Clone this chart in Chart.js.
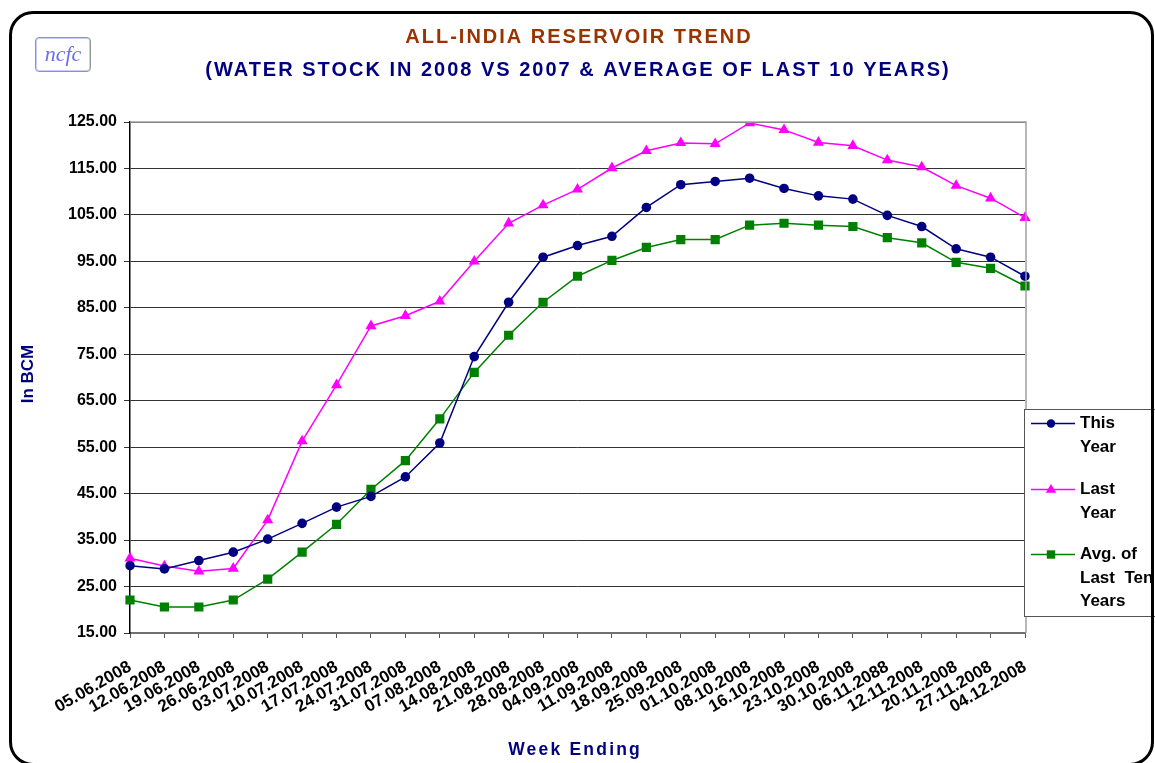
<!DOCTYPE html>
<html>
<head>
<meta charset="utf-8">
<title>All-India Reservoir Trend</title>
<script src="https://cdn.jsdelivr.net/npm/chart.js@4.4.1/dist/chart.umd.min.js"></script>
<style>
  html, body { margin: 0; padding: 0; background: #fff; overflow: hidden; }
  #wrap { position: relative; width: 1155px; height: 763px; overflow: hidden; }
  #frame {
    position: absolute; left: 9px; top: 11px; width: 1139px; height: 749px;
    border: 3px solid #000; border-radius: 24px; pointer-events: none;
  }
  #logo {
    position: absolute; left: 35px; top: 37px; width: 54px; height: 33px;
    border: 1px solid #8a9a9a; border-radius: 4px; box-shadow: inset 0 0 0 1px #c8ccff;
    font: italic 22px "Liberation Serif", "DejaVu Serif", serif; color: #6e6ef0;
    text-align: center; line-height: 31px;
  }
  #chart { position: absolute; left: 0; top: 0; }
</style>
</head>
<body>
<div id="wrap">
  <canvas id="chart" width="1155" height="763"></canvas>
  <div id="frame"></div>
  <div id="logo">ncfc</div>
</div>
<script>
// ── data (BCM, week ending) ──
const weeks = ['05.06.2008', '12.06.2008', '19.06.2008', '26.06.2008', '03.07.2008', '10.07.2008',
  '17.07.2008', '24.07.2008', '31.07.2008', '07.08.2008', '14.08.2008', '21.08.2008', '28.08.2008',
  '04.09.2008', '11.09.2008', '18.09.2008', '25.09.2008', '01.10.2008', '08.10.2008', '16.10.2008',
  '23.10.2008', '30.10.2008', '06.11.2088', '12.11.2008', '20.11.2008', '27.11.2008', '04.12.2008'];

const thisYear = [29.5, 28.8, 30.6, 32.4, 35.2, 38.6, 42.1, 44.4, 48.6, 55.9, 74.5, 86.2, 95.9, 98.4,
  100.4, 106.6, 111.5, 112.2, 112.9, 110.7, 109.1, 108.4, 104.9, 102.5, 97.7, 95.9, 91.8];

const lastYear = [31.1, 29.4, 28.3, 28.9, 39.3, 56.3, 68.4, 81.1, 83.3, 86.4, 95.0, 103.2, 107.1, 110.5,
  115.1, 118.8, 120.5, 120.3, 124.8, 123.3, 120.6, 119.9, 116.8, 115.3, 111.3, 108.6, 104.4];

const avgTenYears = [22.1, 20.6, 20.6, 22.1, 26.6, 32.4, 38.4, 45.9, 52.1, 61.1, 71.1, 79.1, 86.2, 91.8,
  95.2, 98.0, 99.7, 99.7, 102.8, 103.2, 102.8, 102.5, 100.1, 99.0, 94.8, 93.5, 89.7];

const yMin = 15, yMax = 125, yStep = 10;

const titleText = 'ALL-INDIA RESERVOIR TREND';
const subtitleText = '(WATER STOCK IN 2008 VS 2007 & AVERAGE OF LAST 10 YEARS)';
const xTitle = 'Week Ending';
const yTitle = 'In BCM';
// legend entries wrap like the original
const legendLines = [['This', 'Year'], ['Last', 'Year'], ['Avg. of', 'Last  Ten', 'Years']];

const FONT = '"Liberation Sans", Arial, Helvetica, sans-serif';

// titles are spaced out a little, canvas letterSpacing does that
function spacedText(ctx, text, x, y, font, color, spacing, rotate) {
    ctx.save();
    ctx.font = font;
    ctx.fillStyle = color;
    ctx.letterSpacing = spacing + 'px';
    ctx.textAlign = 'center';
    ctx.textBaseline = 'middle';
    ctx.translate(x, y);
    if (rotate) ctx.rotate(rotate);
    ctx.fillText(text, spacing / 2, 0);
    ctx.restore();
}

function marker(ctx, ds, x, y, r) {
    ctx.fillStyle = ds.pointBackgroundColor;
    ctx.beginPath();
    if (ds.pointStyle === 'circle') {
        ctx.arc(x, y, r, 0, Math.PI * 2);
    } else if (ds.pointStyle === 'triangle') {
        ctx.moveTo(x, y - r);
        ctx.lineTo(x + r * 0.95, y + r * 0.6);
        ctx.lineTo(x - r * 0.95, y + r * 0.6);
        ctx.closePath();
    } else {
        ctx.rect(x - r, y - r, r * 2, r * 2);
    }
    ctx.fill();
}

const decorations = {
    id: 'decorations',
    afterDatasetsDraw(chart) {
        const { ctx, chartArea: a } = chart;
        // top & right edges of the plot area
        ctx.save();
        ctx.strokeStyle = '#a0a0a0';
        ctx.lineWidth = 1.5;
        ctx.beginPath();
        ctx.moveTo(a.left, a.top);
        ctx.lineTo(a.right + 1, a.top);
        ctx.lineTo(a.right + 1, a.bottom);
        ctx.stroke();
        ctx.restore();
    },
    afterDraw(chart) {
        const { ctx } = chart;

        spacedText(ctx, titleText, 578, 37, `bold 20px ${FONT}`, '#993300', 2);
        spacedText(ctx, subtitleText, 577, 70, `bold 20px ${FONT}`, '#000080', 2);
        spacedText(ctx, xTitle, 574, 750, `bold 17.5px ${FONT}`, '#000080', 2.2);
        spacedText(ctx, yTitle, 28, 374, `bold 17px ${FONT}`, '#000080', 0, -Math.PI / 2);

        // legend box hanging over the right edge
        const bx = 1024, by = 409.5, bh = 207;
        ctx.save();
        ctx.fillStyle = '#fff';
        ctx.strokeStyle = '#555';
        ctx.lineWidth = 1;
        ctx.fillRect(bx, by, 200, bh);
        ctx.strokeRect(bx + 0.5, by, 200, bh);

        const rowY = [423.5, 489.5, 554.5];
        ctx.font = `bold 17px ${FONT}`;
        ctx.textBaseline = 'middle';
        chart.data.datasets.forEach((ds, i) => {
            const y = rowY[i];
            ctx.strokeStyle = ds.borderColor;
            ctx.lineWidth = 1.5;
            ctx.beginPath();
            ctx.moveTo(1031, y);
            ctx.lineTo(1075, y);
            ctx.stroke();
            marker(ctx, ds, 1051, y, ds.pointStyle === 'triangle' ? 5.5 : 4.2);
            ctx.fillStyle = '#000';
            legendLines[i].forEach((t, j) => ctx.fillText(t, 1080, y + j * 23.5));
        });
        ctx.restore();
    }
};

const series = [
    { label: 'This Year', data: thisYear, color: '#000080', style: 'circle', r: 4.8 },
    { label: 'Last Year', data: lastYear, color: '#ff00ff', style: 'triangle', r: 6.4 },
    { label: 'Avg. of Last Ten Years', data: avgTenYears, color: '#008000', style: 'rect', r: 6.5 }
];

new Chart(document.getElementById('chart'), {
    type: 'line',
    data: {
        labels: weeks,
        datasets: series.map(s => ({
            label: s.label,
            data: s.data,
            borderColor: s.color,
            backgroundColor: s.color,
            pointBackgroundColor: s.color,
            pointBorderColor: s.color,
            pointBorderWidth: 0,
            pointStyle: s.style,
            pointRadius: s.r,
            borderWidth: 1.5,
            tension: 0,
            fill: false
        }))
    },
    options: {
        responsive: false,
        animation: false,
        devicePixelRatio: 1,
        layout: { padding: { left: 0, right: 130, top: 122, bottom: 0 } },
        plugins: {
            legend: { display: false },
            title: { display: false },
            tooltip: { enabled: false }
        },
        scales: {
            x: {
                offset: false,
                afterFit: scale => { scale.height = 130; },
                border: { color: '#707070', width: 2 },
                grid: { drawOnChartArea: false, drawTicks: true, tickLength: 5, color: '#555' },
                ticks: {
                    autoSkip: false,
                    minRotation: 30,
                    maxRotation: 30,
                    padding: 19,
                    color: '#000',
                    font: { family: FONT, size: 17, weight: 'bold' }
                }
            },
            y: {
                min: yMin,
                max: yMax,
                afterFit: scale => { scale.width = 130; },
                border: { color: '#000', width: 1.5 },
                grid: { color: '#333', lineWidth: 1, tickLength: 6 },
                ticks: {
                    stepSize: yStep,
                    padding: 7,
                    color: '#000',
                    font: { family: FONT, size: 16, weight: 'bold' },
                    callback: v => v.toFixed(2)
                }
            }
        }
    },
    plugins: [decorations]
});
</script>
</body>
</html>
